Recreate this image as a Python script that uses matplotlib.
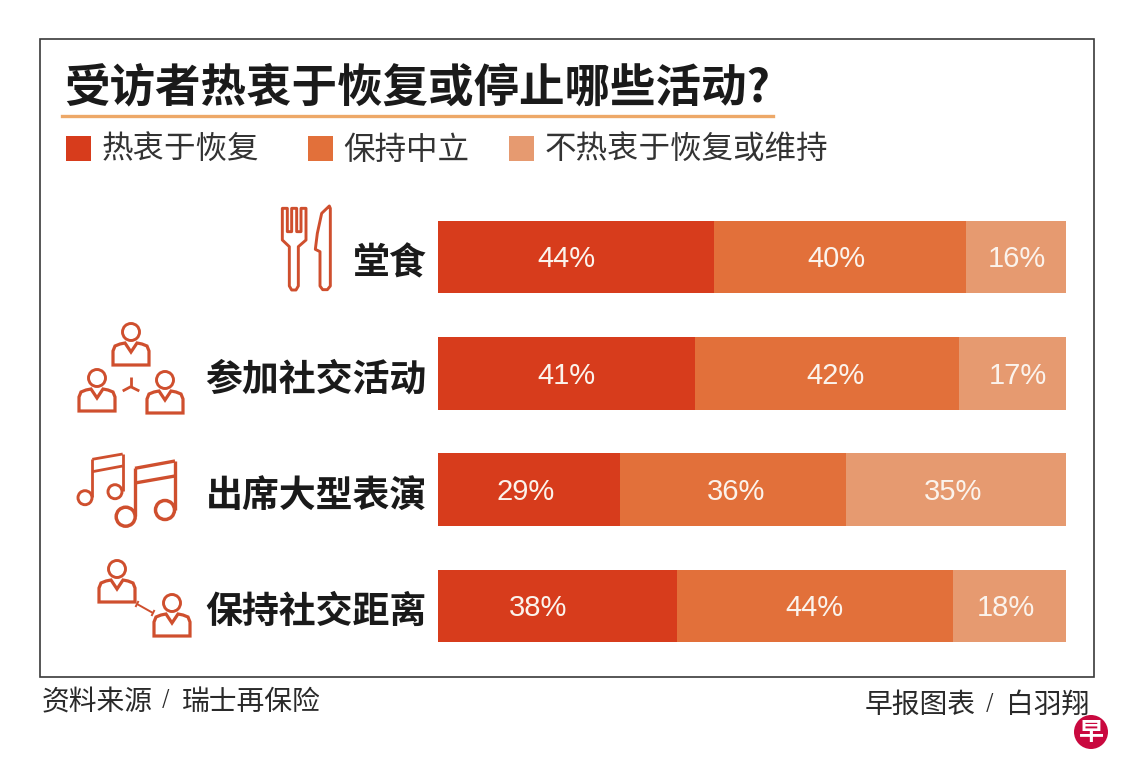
import matplotlib
matplotlib.use("Agg")
import matplotlib.pyplot as plt
from matplotlib.patches import Circle, Polygon, Rectangle
from matplotlib.transforms import ScaledTranslation

plt.rcParams["font.family"] = ["Noto Sans CJK SC", "DejaVu Sans"]

# ---- Data ----------------------------------------------------------------
categories = ["堂食", "参加社交活动", "出席大型表演", "保持社交距离"]
series_names = ["热衷于恢复", "保持中立", "不热衷于恢复或维持"]
eager = [44, 41, 29, 38]
neutral = [40, 42, 36, 44]
not_eager = [16, 17, 35, 18]

colors = ["#D73C1C", "#E2703A", "#E69A70"]
icon_color = "#CF4F2E"
W, H = 1140, 781

# label nudges in percent points, the original labels are not centred exactly
label_shift = [
    [-1.6, -0.6, 0.2],
    [0.0, 1.3, 0.8],
    [-0.5, 0.5, -0.5],
    [-3.0, 0.0, -0.6],
]

fig = plt.figure(figsize=(W / 100, H / 100), dpi=100, facecolor="white")

# ---- Overlay in pixel coordinates for frame, legend, icons ----------------
over = fig.add_axes([0, 0, 1, 1])
over.set_xlim(0, W)
over.set_ylim(H, 0)
over.axis("off")


def line(xs, ys, lw=2.0):
    over.plot(xs, ys, color=icon_color, lw=lw, solid_capstyle="butt")


def ring(x, y, r, lw=2.1):
    over.add_patch(Circle((x, y), r, fill=False, ec=icon_color, lw=lw))


def person(cx, cy):
    ring(cx, cy, 8.5)
    body = [(cx - 18, cy + 33), (cx - 18, cy + 19), (cx - 16, cy + 14),
            (cx - 11, cy + 12), (cx - 6, cy + 11), (cx, cy + 20),
            (cx + 6, cy + 11), (cx + 11, cy + 12), (cx + 16, cy + 14),
            (cx + 18, cy + 19), (cx + 18, cy + 33)]
    over.add_patch(Polygon(body, closed=True, fill=False, ec=icon_color,
                           lw=2.3, joinstyle="miter"))


def zoomed(points):
    return [(40 + x / 3, 190 + y / 3) for x, y in points]


def footer(x, y, text, size=20, ha="left"):
    over.text(x, y, text, fontsize=size, color="#2a2a2a", va="center", ha=ha)


# frame and title
over.add_patch(Rectangle((39.5, 38.5), 1054, 638, fill=False, ec="#3a3a3a", lw=1.2))
over.text(64, 88, "受访者热衷于恢复或停止哪些活动?", fontsize=32.8, fontweight="bold",
          color="#1a1a1a", va="center", ha="left")
over.plot([62, 773], [116, 116], color="#EDA868", lw=2.4)

# legend
legend_square_x = [66, 308, 509]
legend_text_x = [102, 343, 545]
for name, col, sx, tx in zip(series_names, colors, legend_square_x, legend_text_x):
    over.add_patch(Rectangle((sx, 136), 25, 25, fc=col, ec="none"))
    over.text(tx, 150, name, fontsize=22.7, color="#333333", va="center", ha="left")

# fork and knife
fork = [(727, 55), (742, 55), (742, 125), (755, 125), (755, 55), (770, 55),
        (770, 125), (783, 125), (783, 55), (798, 55), (798, 150), (775, 170),
        (775, 288), (768, 300), (755, 300), (748, 288), (748, 170), (727, 150)]
knife = [(868, 48), (845, 70), (832, 130), (826, 178), (840, 185), (840, 288),
         (848, 299), (862, 299), (871, 288), (871, 55)]
for shape in (fork, knife):
    over.add_patch(Polygon(zoomed(shape), closed=True, fill=False, ec=icon_color,
                           lw=2.1, joinstyle="round"))

# three people
person(131, 332)
person(97, 378)
person(165, 380)
line([130.7, 130.7], [376.5, 386.7])
line([130.7, 122.7], [386.7, 391])
line([130.7, 139.3], [386.7, 391])

# music notes
ring(85, 497.7, 7)
ring(115, 491.7, 7)
line([92.3, 92.3], [497, 459.3])
line([122.7, 122.7], [491, 454])
line([92.3, 122.7], [459.3, 454])
line([92.3, 122.7], [471.7, 466])
ring(125.7, 516.7, 9.5, lw=2.5)
ring(165, 510, 9.5, lw=2.5)
line([135, 135], [516, 468.3], lw=2.4)
line([175, 175], [510, 461], lw=2.4)
line([135, 175], [468.3, 461], lw=2.4)
line([135, 175], [483, 476], lw=2.4)

# two people at a distance
person(117, 569)
person(172, 603)
line([137, 153], [604, 613], lw=1.4)
line([135.5, 138.5], [607, 601], lw=1.4)
line([151.5, 154.5], [616, 610], lw=1.4)

# footer, the slash is a small one in the original
footer(42, 702, "资料来源")
footer(166, 700, "/", size=14, ha="center")
footer(182, 702, "瑞士再保险")
footer(865, 705, "早报图表")
footer(990, 703, "/", size=14, ha="center")
footer(1089, 705, "白羽翔", ha="right")
over.add_patch(Circle((1091, 732), 17, fc="#C9093F", ec="none"))
over.text(1091, 733, "早", fontsize=18, fontweight="bold", color="white",
          va="center", ha="center")

# ---- Bars ----------------------------------------------------------------
ax = fig.add_axes([438 / W, 1 - 664.2 / H, 628 / W, 465.4 / H])
ax.patch.set_alpha(0)

y_pos = list(range(len(categories)))
left = [0] * len(categories)
for j, (vals, col, name) in enumerate(zip([eager, neutral, not_eager], colors, series_names)):
    ax.barh(y_pos, vals, left=left, height=0.625, color=col, label=name)
    for i, val in enumerate(vals):
        ax.text(left[i] + val / 2 + label_shift[i][j], i + 0.02, f"{val}%", color="#FBF3EC",
                family="Liberation Sans", fontsize=21, ha="center", va="center")
    left = [a + b for a, b in zip(left, vals)]

ax.set_xlim(0, 100)
ax.set_ylim(3.5, -0.5)
ax.set_xticks([])
ax.set_yticks(y_pos)
ax.set_yticklabels(categories, fontsize=26.6, fontweight="bold", color="#1a1a1a")
ax.tick_params(axis="y", length=0, pad=8)
# CJK glyphs sit a little high when centred
down = ScaledTranslation(0, -2 / 72, fig.dpi_scale_trans)
for lab in ax.get_yticklabels():
    lab.set_transform(lab.get_transform() + down)
for spine in ax.spines.values():
    spine.set_visible(False)

plt.savefig("out.png", dpi=100)
